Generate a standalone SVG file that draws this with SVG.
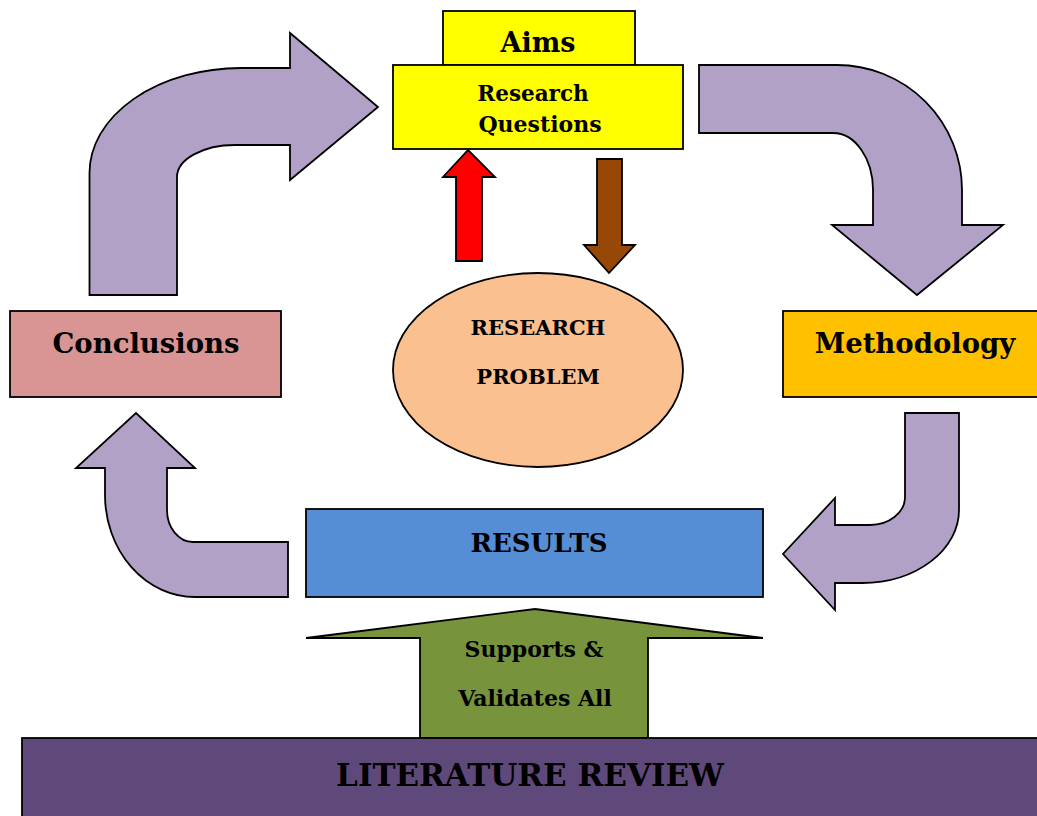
<svg xmlns="http://www.w3.org/2000/svg" width="1037" height="816" viewBox="0 0 1037 816">
<style>
  .t { font-family: "DejaVu Serif", "Liberation Serif", serif; font-weight: bold; fill: #000; text-anchor: middle; }
  .s { stroke: #000; stroke-width: 1.8; stroke-linejoin: miter; }
  .bent { fill: #B2A1C7; }
</style>
<rect width="1037" height="816" fill="#fff"/>
<g id="connectors">
  <path id="arrow-tl" class="s bent" d="M 89.5,295 L 89.5,173 A 152,105 0 0 1 241,68 L 290,68 L 290,33 L 378,107 L 290,180 L 290,145 L 235,145 A 58,32 0 0 0 177,177 L 177,295 Z"/>
  <path id="arrow-tr" class="s bent" d="M 699,65 L 837,65 A 125,125 0 0 1 962,190 L 962,225 L 1003,225 L 917,295 L 832,225 L 873,225 L 873,190 A 40,57 0 0 0 833,133 L 699,133 Z"/>
  <path id="arrow-br" class="s bent" d="M 905,413 L 959,413 L 959,510 A 97,73 0 0 1 862,583 L 835,583 L 835,610 L 783,554 L 835,498 L 835,525 L 870,525 A 35,28 0 0 0 905,497 Z"/>
  <path id="arrow-bl" class="s bent" d="M 288,542 L 193,542 A 26,32 0 0 1 167,510 L 167,468 L 195,468 L 136,413 L 76,468 L 105,468 L 105,495 A 90,102 0 0 0 195,597 L 288,597 Z"/>
  <path id="arrow-red" class="s" fill="#FF0000" d="M 468,150 L 495,177 L 482,177 L 482,261 L 456,261 L 456,177 L 443,177 Z"/>
  <path id="arrow-brown" class="s" fill="#974806" d="M 597,159 L 622,159 L 622,245 L 635,245 L 609,273 L 584,245 L 597,245 Z"/>
</g>
<g id="aims">
  <rect class="s" x="443" y="11" width="192" height="54" fill="#FFFF00"/>
  <text class="t" x="538" y="52" font-size="27">Aims</text>
</g>
<g id="research-questions">
  <rect class="s" x="393" y="65" width="290" height="84" fill="#FFFF00"/>
  <text class="t" x="533" y="101" font-size="21.5">Research</text>
  <text class="t" x="540" y="132" font-size="22">Questions</text>
</g>
<g id="research-problem">
  <ellipse class="s" cx="538" cy="370" rx="145" ry="97" fill="#FAC090"/>
  <text class="t" x="538" y="335" font-size="21">RESEARCH</text>
  <text class="t" x="538" y="384" font-size="21">PROBLEM</text>
</g>
<g id="conclusions">
  <rect class="s" x="10" y="311" width="271" height="86" fill="#D99594"/>
  <text class="t" x="146" y="353" font-size="27.5">Conclusions</text>
</g>
<g id="methodology">
  <rect class="s" x="783" y="311" width="260" height="86" fill="#FFC000"/>
  <text class="t" x="915" y="353" font-size="27.5">Methodology</text>
</g>
<g id="results">
  <rect class="s" x="306" y="509" width="457" height="88" fill="#558ED5"/>
  <text class="t" x="539" y="552" font-size="26">RESULTS</text>
</g>
<g id="supports">
  <path class="s" fill="#77933C" d="M 535,609 L 763,638 L 648,638 L 648,738 L 420,738 L 420,638 L 306,638 Z"/>
  <text class="t" x="534" y="657" font-size="22">Supports &amp;</text>
  <text class="t" x="535" y="706" font-size="22">Validates All</text>
</g>
<g id="literature-review">
  <rect class="s" x="22" y="738" width="1025" height="90" fill="#5F497A"/>
  <text class="t" x="530" y="786" font-size="31">LITERATURE REVIEW</text>
</g>
</svg>
